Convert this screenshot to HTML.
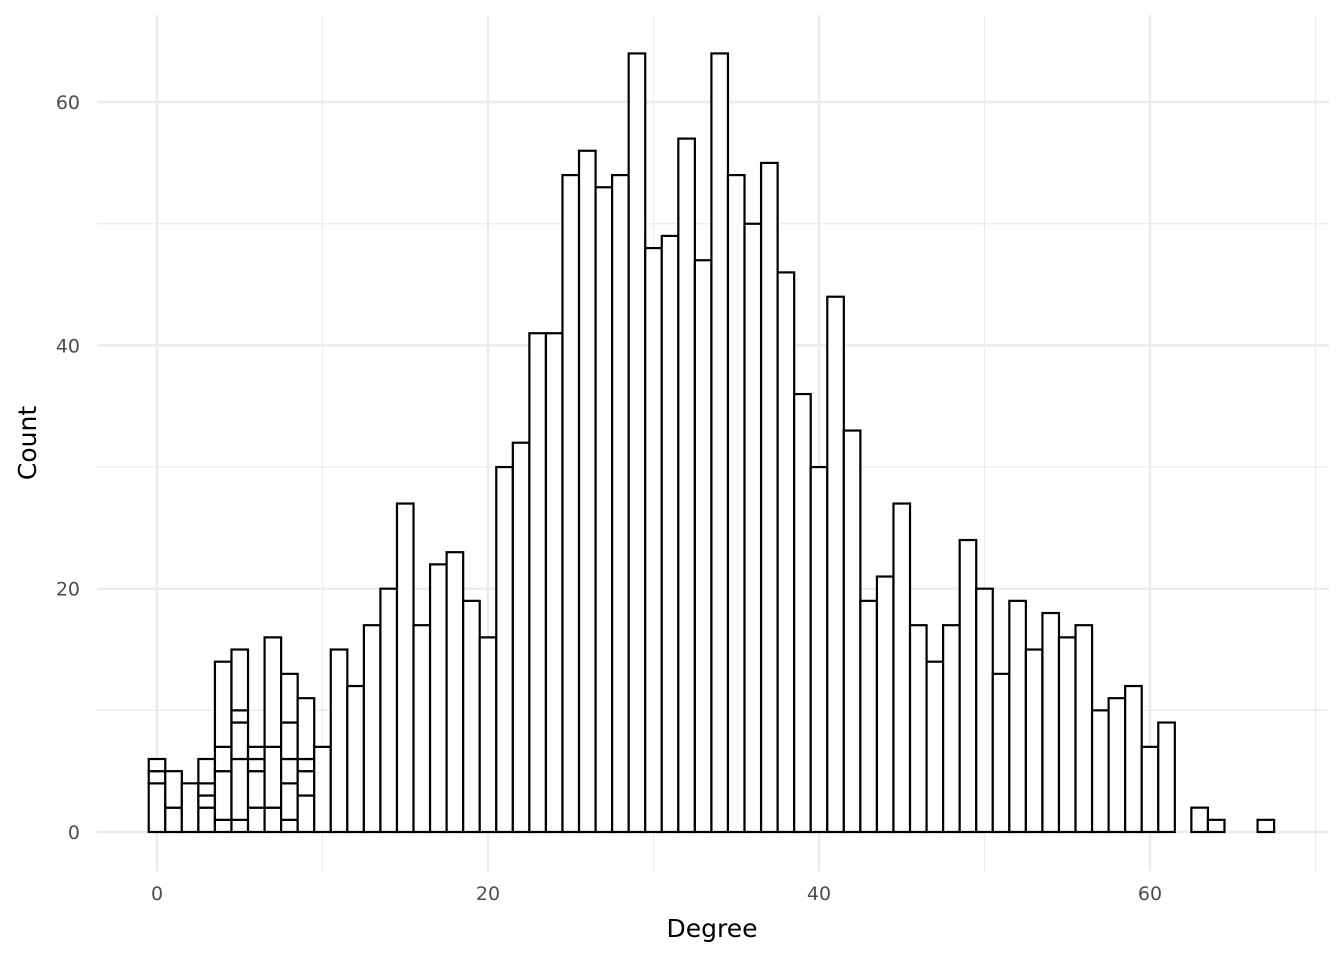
<!DOCTYPE html>
<html><head><meta charset="utf-8"><style>
body{margin:0;background:#fff;}
svg{display:block;font-family:"DejaVu Sans","Liberation Sans",sans-serif;}
</style></head><body>
<svg id="chart" width="1344" height="960" viewBox="0 0 1344 960" xmlns="http://www.w3.org/2000/svg">
<g id="grid"></g><g id="bars"></g><g id="axes"></g>
<text x="712" y="937" text-anchor="middle" font-size="25" fill="#000">Degree</text>
<text transform="translate(36,443) rotate(-90)" text-anchor="middle" font-size="25" fill="#000">Count</text>
</svg>
<script>
const degrees = [];
for (let i = 0; i <= 67; i++) degrees.push(i);
const counts = [6,5,4,6,14,15,7,16,13,11,7,15,12,17,20,27,17,22,23,19,16,30,32,41,41,54,56,53,54,64,48,49,57,47,64,54,50,55,46,36,30,44,33,19,21,27,17,14,17,24,20,13,19,15,18,16,17,10,11,12,7,9,0,2,1,0,0,1];
const segments = {0:[4,1,1],1:[2,3],2:[4],3:[2,1,1,2],4:[1,4,2,7],5:[1,5,3,1,5],6:[2,3,1,1],7:[2,5,9],8:[1,3,2,3,4],9:[3,2,1,5]};
const xMajor = [0,20,40,60];
const xMinor = [10,30,50,70];
const yMajor = [0,20,40,60];
const yMinor = [10,30,50];
const NS='http://www.w3.org/2000/svg';
const xs = v => 157 + v*16.55;
const ys = v => 832 - v*12.165;
const grid=document.getElementById('grid'), bars=document.getElementById('bars'), axes=document.getElementById('axes');
function line(p,x1,y1,x2,y2,w,name){const l=document.createElementNS(NS,'line');
l.setAttribute('x1',x1);l.setAttribute('y1',y1);l.setAttribute('x2',x2);l.setAttribute('y2',y2);
l.setAttribute('stroke','#ebebeb');l.setAttribute('stroke-width',w);


p.appendChild(l);}
xMinor.forEach(v=>line(grid,xs(v),15,xs(v),871,1.2,'x-minor-gridline'));
yMinor.forEach(v=>line(grid,97,ys(v),1329,ys(v),1.2,'y-minor-gridline'));
xMajor.forEach(v=>line(grid,xs(v),15,xs(v),871,2.4,'x-major-gridline'));
yMajor.forEach(v=>line(grid,97,ys(v),1329,ys(v),2.4,'y-major-gridline'));
function txt(x,y,s,anchor,name){const t=document.createElementNS(NS,'text');
t.setAttribute('x',x);t.setAttribute('y',y);t.setAttribute('text-anchor',anchor);
t.setAttribute('font-size','19');t.setAttribute('fill','#4d4d4d');t.textContent=s;


axes.appendChild(t);}
xMajor.forEach(v=>txt(xs(v),900,String(v),'middle','x-tick-label'));
yMajor.forEach(v=>txt(80,ys(v)+7,String(v),'end','y-tick-label'));
function rect(x,y,w,h,name){const r=document.createElementNS(NS,'rect');
r.setAttribute('x',x);r.setAttribute('y',y);r.setAttribute('width',w);r.setAttribute('height',h);
r.setAttribute('fill','#fff');r.setAttribute('stroke','#000');r.setAttribute('stroke-width','2.2');


bars.appendChild(r);}
degrees.forEach((d,i)=>{
  const c=counts[i]; if(!c) return;
  const segs = segments[d] || [c];
  let base=0;
  segs.forEach(s=>{
    const x0=xs(d-0.5), x1=xs(d+0.5);
    rect(x0, ys(base+s), x1-x0, ys(base)-ys(base+s), 'bar-degree-'+d);
    base+=s;
  });
});
</script>
</body></html>
